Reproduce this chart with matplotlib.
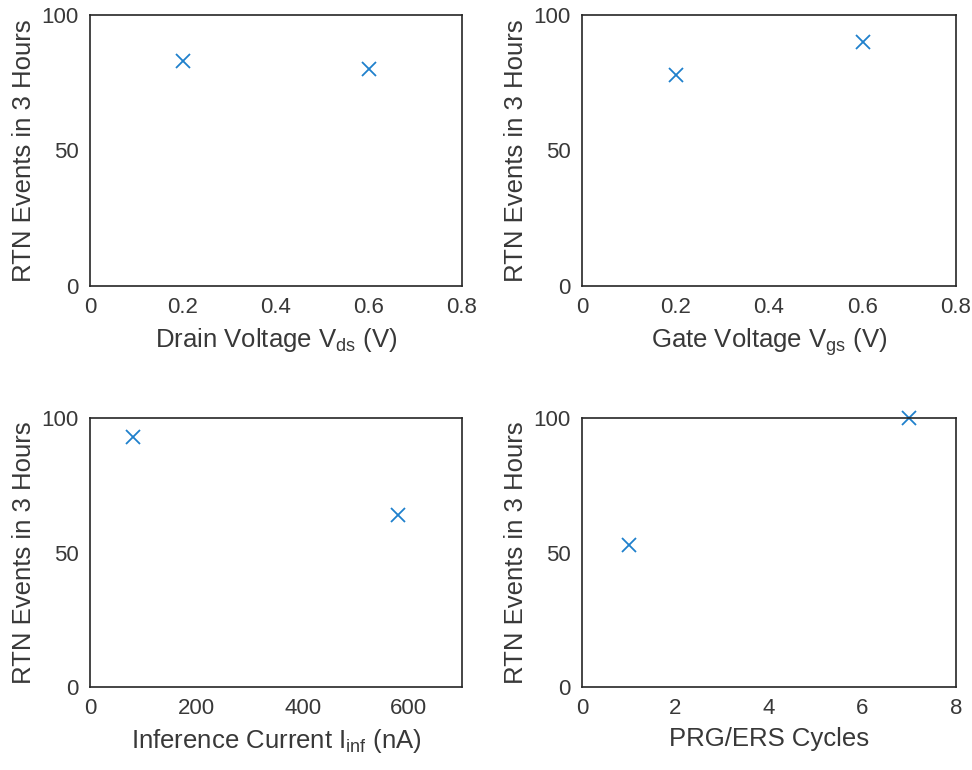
import matplotlib.pyplot as plt

plt.rcParams['font.family'] = ['Liberation Sans', 'DejaVu Sans']
plt.rcParams['mathtext.fontset'] = 'custom'
plt.rcParams['mathtext.rm'] = 'Liberation Sans'
plt.rcParams['mathtext.it'] = 'Liberation Sans'

# data
vds = [0.2, 0.6]
events_vds = [83, 80]

vgs = [0.2, 0.6]
events_vgs = [78, 90]

i_inf = [80, 580]
events_inf = [93, 64]

cycles = [1, 7]
events_cycles = [53, 100]

ylabel = "RTN Events in 3 Hours"
text_col = "#383838"
marker_col = "#1f80cc"

fig = plt.figure(figsize=(9.72, 7.7), dpi=100)

panels = [
    # (rect, x, y, xlim, xticks, xticklabels, xlabel)
    ([0.0926, 0.6286, 0.3827, 0.352], vds, events_vds, (0, 0.8),
     [0, 0.2, 0.4, 0.6, 0.8], ["0", "0.2", "0.4", "0.6", "0.8"],
     r"Drain Voltage V$_{\mathrm{ds}}$ (V)"),
    ([0.5988, 0.6286, 0.3848, 0.352], vgs, events_vgs, (0, 0.8),
     [0, 0.2, 0.4, 0.6, 0.8], ["0", "0.2", "0.4", "0.6", "0.8"],
     r"Gate Voltage V$_{\mathrm{gs}}$ (V)"),
    ([0.0926, 0.1078, 0.3827, 0.349], i_inf, events_inf, (0, 700),
     [0, 200, 400, 600], ["0", "200", "400", "600"],
     r"Inference Current I$_{\mathrm{inf}}$ (nA)"),
    ([0.5988, 0.1078, 0.3848, 0.349], cycles, events_cycles, (0, 8),
     [0, 2, 4, 6, 8], ["0", "2", "4", "6", "8"],
     "PRG/ERS Cycles"),
]

for rect, x, y, xlim, xt, xtl, xlab in panels:
    ax = fig.add_axes(rect)
    ax.plot(x, y, linestyle="none", marker="x", color=marker_col,
            markersize=10, markeredgewidth=1.3, clip_on=False)
    ax.set_xlim(*xlim)
    ax.set_ylim(0, 100)
    ax.set_xticks(xt)
    ax.set_xticklabels(xtl)
    ax.set_yticks([0, 50, 100])
    ax.tick_params(length=0, labelsize=16, labelcolor=text_col, pad=8)
    for s in ax.spines.values():
        s.set_color("#262626")
        s.set_linewidth(1.2)
    ax.set_xlabel(xlab, fontsize=18.5, color=text_col, labelpad=6)
    ax.set_ylabel(ylabel, fontsize=18.5, color=text_col, labelpad=4)

fig.savefig("out.png", dpi=100)
